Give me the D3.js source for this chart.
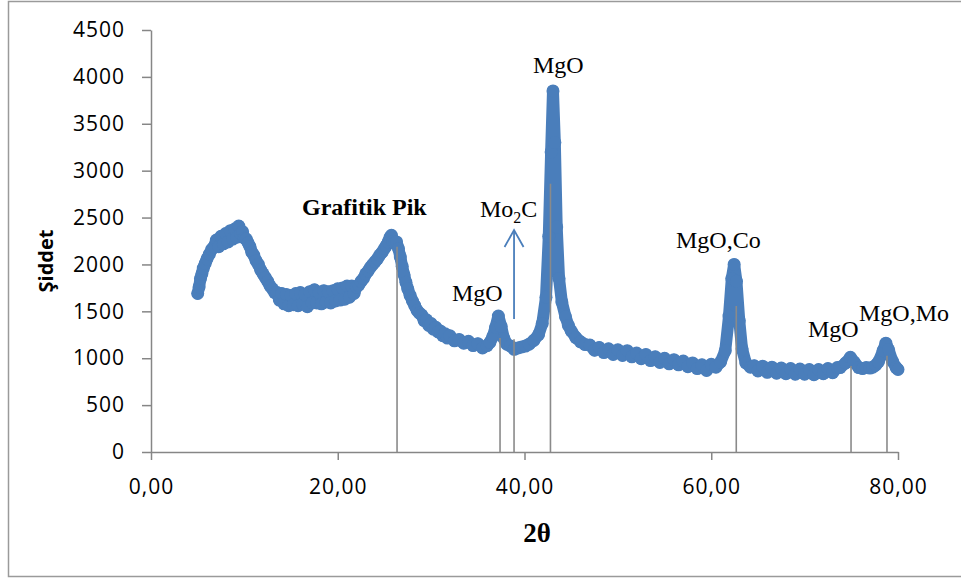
<!DOCTYPE html>
<html>
<head>
<meta charset="utf-8">
<script src="https://cdn.jsdelivr.net/npm/d3@7/dist/d3.min.js"></script>
<style>
  html, body { margin: 0; padding: 0; background: #ffffff; }
  svg { display: block; }
</style>
</head>
<body>
<svg id="chart" width="961" height="581"></svg>
<script>
// ---------------- DATA ----------------
const twoTheta = [
  5.0, 5.15, 5.3, 5.45, 5.6, 5.8, 6.0, 6.25, 6.5, 6.75, 7.0, 7.25, 7.5, 7.75, 8.0, 8.25, 8.5, 8.75, 9.0, 9.2,
  9.4, 9.6, 9.8, 10.0, 10.2, 10.4, 10.6, 10.8, 11.0, 11.25, 11.5, 11.75, 12.0, 12.25, 12.5, 12.75, 13.0, 13.25,
  13.5, 13.75, 14.0, 14.25, 14.5, 14.75, 15.0, 15.25, 15.5, 15.75, 16.0, 16.25, 16.5, 16.75, 17.0, 17.25, 17.5,
  17.75, 18.0, 18.25, 18.5, 18.75, 19.0, 19.25, 19.5, 19.75, 20.0, 20.25, 20.5, 20.75, 21.0, 21.25, 21.5, 21.75,
  22.0, 22.25, 22.5, 22.75, 23.0, 23.25, 23.5, 23.75, 24.0, 24.25, 24.5, 24.75, 25.0, 25.2, 25.4, 25.6, 25.75,
  25.9, 26.1, 26.3, 26.5, 26.7, 26.9, 27.1, 27.3, 27.5, 27.75, 28.0, 28.25, 28.5, 28.75, 29.0, 29.25, 29.5,
  29.75, 30.0, 30.25, 30.5, 30.75, 31.0, 31.25, 31.5, 31.75, 32.0, 32.5, 33.0, 33.5, 34.0, 34.5, 35.0, 35.5,
  36.0, 36.3, 36.6, 36.9, 37.2, 37.5, 37.8, 38.1, 38.5, 38.9, 39.3, 39.7, 40.1, 40.5, 41.0, 41.5, 41.9, 42.3,
  42.6, 42.85, 43.05, 43.25, 43.45, 43.7, 44.0, 44.4, 44.7, 45.0, 45.5, 46.0, 46.5, 47.0, 47.5, 48.0, 48.5,
  49.0, 49.5, 50.0, 50.5, 51.0, 51.5, 52.0, 52.5, 53.0, 53.5, 54.0, 54.5, 55.0, 55.5, 56.0, 56.5, 57.0, 57.5,
  58.0, 58.5, 59.0, 59.5, 60.0, 60.5, 61.0, 61.5, 61.9, 62.2, 62.45, 62.7, 63.0, 63.3, 63.7, 64.2, 64.6, 65.0,
  65.5, 66.0, 66.5, 67.0, 67.5, 68.0, 68.5, 69.0, 69.5, 70.0, 70.5, 71.0, 71.5, 72.0, 72.5, 73.0, 73.5, 73.8,
  74.4, 74.9, 75.3, 75.8, 76.2, 76.6, 77.0, 77.3, 77.6, 77.9, 78.4, 78.7, 79.0, 79.4, 79.8, 80.0
];
const intensity = [
  1690, 1760, 1850, 1900, 1960, 2010, 2060, 2110, 2160, 2190, 2260, 2190, 2300, 2220, 2330, 2240, 2360, 2270, 2380, 2290,
  2410, 2330, 2350, 2280, 2270, 2230, 2190, 2130, 2100, 2040, 2000, 1940, 1900, 1860, 1820, 1770, 1740, 1700,
  1700, 1620, 1690, 1580, 1680, 1560, 1670, 1570, 1690, 1560, 1700, 1580, 1680, 1550, 1710, 1590, 1730,
  1590, 1700, 1580, 1720, 1600, 1710, 1590, 1720, 1610, 1740, 1620, 1750, 1630, 1770, 1650, 1770, 1690,
  1760, 1780, 1820, 1850, 1900, 1930, 1970, 2000, 2030, 2060, 2100, 2130, 2170, 2200, 2240, 2290, 2310,
  2240, 2230, 2240, 2170, 2080, 1980, 1890, 1810, 1740, 1670, 1610, 1560, 1510, 1480, 1460, 1400, 1410,
  1350, 1370, 1310, 1330, 1280, 1290, 1240, 1260, 1215, 1240, 1185, 1200, 1160, 1180, 1135, 1155, 1110,
  1135, 1170, 1230, 1330, 1450, 1340, 1210, 1150, 1130, 1095, 1110, 1120, 1130, 1150, 1190, 1250, 1370, 1650,
  2300, 3200, 3850, 3300, 2400, 1850, 1600, 1440, 1350, 1290, 1220, 1175, 1145, 1140, 1085, 1115, 1060,
  1100, 1040, 1090, 1030, 1080, 1015, 1055, 995, 1040, 975, 1015, 955, 1000, 940, 985, 930, 970, 910,
  950, 890, 930, 870, 935, 905, 960, 1080, 1450, 1850, 2000, 1820, 1400, 1100, 950, 905, 920, 865,
  915, 850, 905, 840, 895, 835, 890, 830, 885, 830, 880, 825, 880, 835, 890, 845, 900, 900,
  950, 1010, 960, 900, 890, 900, 895, 905, 925, 960, 1080, 1160, 1090, 970, 900, 880
];

const xTicks = [0, 20, 40, 60, 80];
const yTicks = [0, 500, 1000, 1500, 2000, 2500, 3000, 3500, 4000, 4500];

// drop lines (2θ, top intensity)
const dropX = [26.35, 37.38, 38.88, 42.78, 62.68, 74.97, 78.82];
const dropY = [2189, 1216, 1201, 2860, 1557, 917, 1027];

// annotation labels (text, 2θ, intensity of baseline-left)
const labelText = ["MgO", "MgO", "MgO,Co", "MgO", "MgO,Mo"];
const labelX = [40.91, 32.24, 56.22, 70.36, 75.82];
const labelY = [4041, 1610, 2175, 1226, 1397];

const graphiteLabel = { text: "Grafitik Pik", x: 16.17, y: 2527 };
const mo2cLabel = { x: 35.23, y: 2506 };
const arrowSpec = { x: 38.88, from: 1418, to: 2367 };

const xTitle = "2θ";
const yTitle = "Şiddet";

// ---------------- CHART ----------------
const svg = d3.select("#chart");
const x = d3.scaleLinear().domain([0, 80]).range([151, 898]);
const y = d3.scaleLinear().domain([0, 4500]).range([452, 30]);

// outer frame
svg.append("rect")
  .attr("x", 8.5).attr("y", 1.5).attr("width", 960).attr("height", 575)
  .attr("fill", "none").attr("stroke", "#9a9a9a").attr("stroke-width", 1.5);

const axisColor = "#868686";
const tickFont = "'Open Sans', 'Liberation Sans', sans-serif";

// Y axis
const gy = svg.append("g").attr("transform", `translate(${x(0)},0)`)
  .call(d3.axisLeft(y).tickValues(yTicks).tickSize(9).tickSizeOuter(0).tickPadding(17).tickFormat(d3.format("d")));
gy.select(".domain").attr("stroke", axisColor).attr("stroke-width", 1.5);
gy.selectAll(".tick line").attr("stroke", axisColor).attr("stroke-width", 1.5);
gy.selectAll(".tick text")
  .attr("font-family", tickFont).attr("font-size", 21).attr("letter-spacing", 1)
  .attr("fill", "#000");

// X axis
const gx = svg.append("g").attr("transform", `translate(0,${y(0)})`)
  .call(d3.axisBottom(x).tickValues(xTicks).tickSize(8).tickSizeOuter(0)
    .tickFormat(d => d3.format(".2f")(d).replace(".", ",")));
gx.select(".domain").attr("stroke", axisColor).attr("stroke-width", 1.5);
gx.selectAll(".tick line").attr("stroke", axisColor).attr("stroke-width", 1.5);
gx.selectAll(".tick text")
  .attr("font-family", tickFont).attr("font-size", 21).attr("letter-spacing", 1)
  .attr("fill", "#000").attr("dy", null).attr("y", 42);

// data series: thick blue band
const pts = twoTheta.map((t, i) => [t, intensity[i]]);
const blue = "#4A7EBB";
svg.append("path")
  .datum(pts)
  .attr("fill", "none")
  .attr("stroke", blue)
  .attr("stroke-width", 12)
  .attr("stroke-linejoin", "round")
  .attr("stroke-linecap", "round")
  .attr("d", d3.line().x(d => x(d[0])).y(d => y(d[1])));

svg.append("g").selectAll("circle").data(pts).join("circle")
  .attr("cx", d => x(d[0])).attr("cy", d => y(d[1])).attr("r", 6.5).attr("fill", blue);

// drop lines
svg.append("g").selectAll("line").data(dropX).join("line")
  .attr("x1", d => x(d)).attr("x2", d => x(d))
  .attr("y1", y(0)).attr("y2", (d, i) => y(dropY[i]))
  .attr("stroke", "#8a8a8a").attr("stroke-width", 1.6);

// annotations
const serif = "'Liberation Serif', 'Times New Roman', serif";
svg.append("g").selectAll("text").data(labelText).join("text")
  .attr("x", (d, i) => x(labelX[i])).attr("y", (d, i) => y(labelY[i]))
  .attr("font-family", serif).attr("font-size", 24).attr("fill", "#000")
  .text(d => d);

svg.append("text")
  .attr("x", x(graphiteLabel.x)).attr("y", y(graphiteLabel.y))
  .attr("font-family", serif).attr("font-size", 24).attr("font-weight", "bold").attr("fill", "#000")
  .text(graphiteLabel.text);

const mo = svg.append("text")
  .attr("x", x(mo2cLabel.x)).attr("y", y(mo2cLabel.y))
  .attr("font-family", serif).attr("font-size", 24).attr("fill", "#000");
mo.append("tspan").text("Mo");
mo.append("tspan").attr("font-size", 16).attr("dy", 6).text("2");
mo.append("tspan").attr("dy", -6).text("C");

// arrow
const ax = x(arrowSpec.x), ay0 = y(arrowSpec.from), ay1 = y(arrowSpec.to);
svg.append("line").attr("x1", ax).attr("x2", ax).attr("y1", ay0).attr("y2", ay1)
  .attr("stroke", blue).attr("stroke-width", 1.8);
svg.append("path")
  .attr("d", `M${ax - 9.5},${ay1 + 17} L${ax},${ay1} L${ax + 9.5},${ay1 + 17}`)
  .attr("fill", "none").attr("stroke", blue).attr("stroke-width", 1.8);

// axis titles
svg.append("text")
  .attr("x", 537).attr("y", 542).attr("text-anchor", "middle")
  .attr("font-family", serif).attr("font-size", 27).attr("font-weight", "bold").attr("fill", "#000")
  .text(xTitle);

svg.append("text")
  .attr("transform", "translate(53,261) rotate(-90)")
  .attr("text-anchor", "middle")
  .attr("font-family", "'Open Sans', sans-serif").attr("font-size", 20).attr("font-weight", "bold").attr("fill", "#000")
  .text(yTitle);
</script>
</body>
</html>
